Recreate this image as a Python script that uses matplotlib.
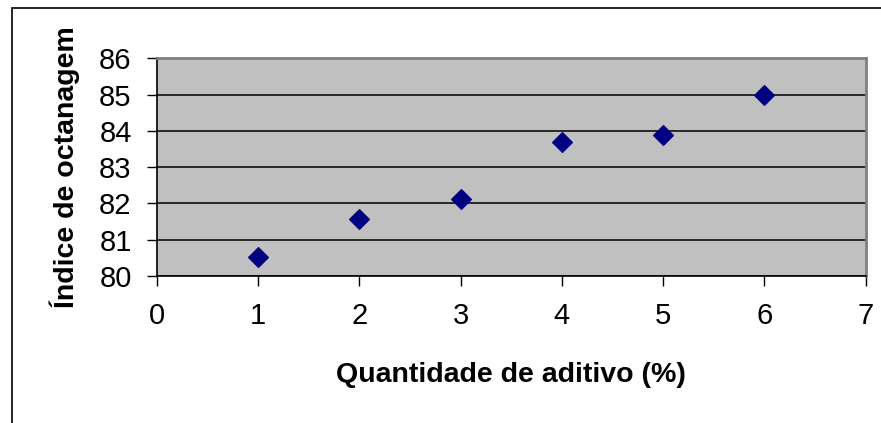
import matplotlib.pyplot as plt
from matplotlib.patches import Rectangle

plt.rcParams["font.family"] = ["Liberation Sans", "DejaVu Sans"]

aditivo = [1, 2, 3, 4, 5, 6]
octanagem = [80.53, 81.57, 82.12, 83.69, 83.88, 85.0]

fig = plt.figure(figsize=(8.81, 4.23), dpi=100)
ax = fig.add_axes([156.7 / 881, 1 - 276 / 423, (865.7 - 156.7) / 881, (276 - 58.3) / 423])

# outer chart frame (cut off at right and bottom)
fig.patches.append(Rectangle((12 / 881, -0.1), 1.2, 1 - 8 / 423 + 0.1,
                             transform=fig.transFigure, fill=False,
                             edgecolor="black", linewidth=1.2))

ax.set_facecolor("#c0c0c0")
ax.scatter(aditivo, octanagem, marker="D", s=100, color="#000080", zorder=3)

ax.set_xlim(0, 7)
ax.set_ylim(80, 86)
ax.set_xticks(range(0, 8))
ax.set_yticks(range(80, 87))
ax.yaxis.grid(True, color="black", linewidth=1.1)
ax.set_axisbelow(True)

for side in ["top", "right"]:
    ax.spines[side].set_color("#808080")
    ax.spines[side].set_linewidth(2)
for side in ["left", "bottom"]:
    ax.spines[side].set_color("black")
    ax.spines[side].set_linewidth(1.2)

ax.tick_params(axis="both", direction="out", length=7, width=1, labelsize=21)
ax.tick_params(axis="x", pad=12)
ax.tick_params(axis="y", pad=11)

ax.set_xlabel("Quantidade de aditivo (%)", fontsize=20.5, fontweight="bold")
ax.set_ylabel("Índice de octanagem", fontsize=20.5, fontweight="bold")
ax.xaxis.set_label_coords(0.5, -(375 - 276) / (276 - 58.3), transform=ax.transAxes)
ax.xaxis.label.set_va("center")
ax.yaxis.set_label_coords(-(156.7 - 65) / (865.7 - 156.7), 0.5, transform=ax.transAxes)
ax.yaxis.label.set_va("center")

fig.savefig("out.png", dpi=100)
